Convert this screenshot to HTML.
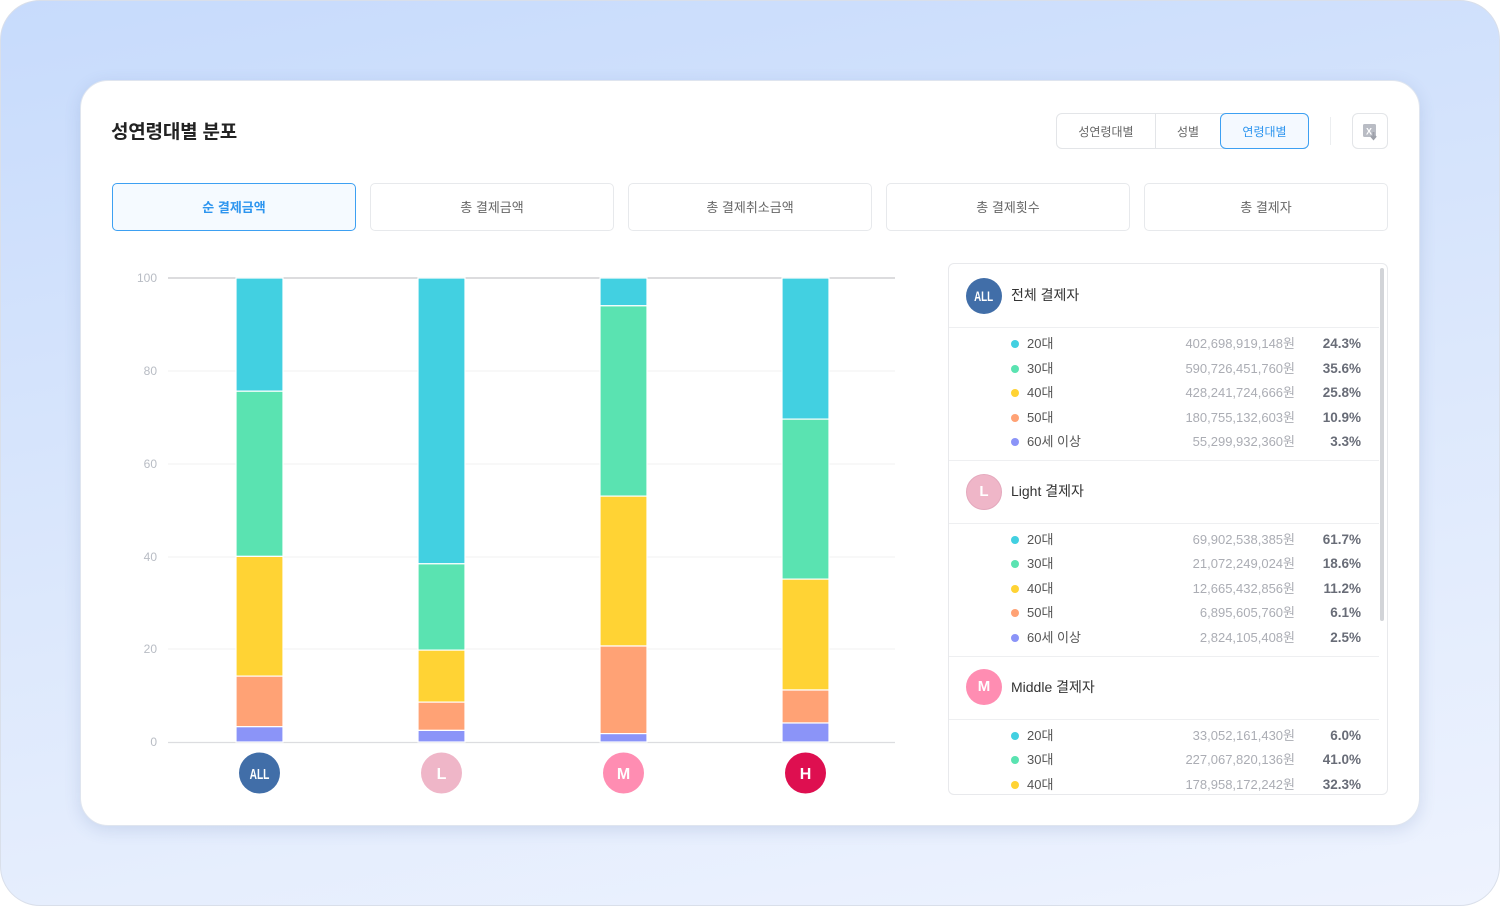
<!DOCTYPE html>
<html><head><meta charset="utf-8">
<style>
*{box-sizing:border-box;margin:0;padding:0}
body{width:1500px;height:906px;background:#fff;position:relative;overflow:hidden;font-family:"Liberation Sans","Noto Sans CJK KR",sans-serif}
.bg{position:absolute;left:0;top:0;width:1500px;height:906px;border-radius:40px;border:1px solid #d9dfea;background:linear-gradient(170deg,#c7dbfc 0%,#d9e6fc 45%,#eef3fe 100%)}
.card{position:absolute;left:80px;top:80px;width:1340px;height:746px;border-radius:28px;background:#fff;border:1px solid #dfe5ef;box-shadow:0 4px 16px rgba(70,100,160,.16)}
.abs{position:absolute}
.title{left:111px;top:120px;font-size:19px;font-weight:700;color:#222;letter-spacing:-0.2px;line-height:26px}
.seg{left:1056px;top:113px;width:253px;height:36px;border:1px solid #e3e5e8;border-radius:6px}
.segt{top:114px;height:36px;line-height:36px;font-size:12px;color:#666;text-align:center}
.tab{top:183px;width:244px;height:48px;border:1px solid #e7e9ec;border-radius:5px;text-align:center;line-height:48px;font-size:13px;color:#666}
.tab.on{border-color:#3da0f2;background:#f5faff;color:#2d95ef;font-weight:700}
.panel{left:948px;top:263px;width:440px;height:532px;border:1px solid #e8e9ec;border-radius:6px;overflow:hidden;background:#fff}
.hc{position:absolute;width:36px;height:36px;border-radius:50%;color:#fff;text-align:center;line-height:36px;font-size:15px;font-weight:700}
.ht{position:absolute;left:62px;font-size:14px;color:#333;line-height:20px}
.dv{position:absolute;left:0;width:430px;height:1px;background:#eeeff1}
.row{position:absolute;left:0;width:430px;height:20px;line-height:20px;font-size:13px}
.row .d{position:absolute;left:62px;top:6px;width:8px;height:8px;border-radius:50%}
.row .l{position:absolute;left:78px;color:#555}
.row .a{position:absolute;right:84px;color:#abadb4}
.row .p{position:absolute;right:18px;color:#686c77;font-weight:700;font-size:13.5px}
</style></head><body>
<div class="bg"></div>
<div class="card"></div>
<div class="abs title">성연령대별 분포</div>

<div class="abs seg"></div>
<div class="abs" style="left:1155px;top:114px;width:1px;height:34px;background:#e3e5e8"></div>
<div class="abs segt" style="left:1056px;width:100px">성연령대별</div>
<div class="abs segt" style="left:1156px;width:64px">성별</div>
<div class="abs" style="left:1220px;top:113px;width:89px;height:36px;border:1px solid #3da0f2;border-radius:6px;background:#f4f9ff"></div>
<div class="abs segt" style="left:1220px;width:89px;color:#2d95ef">연령대별</div>
<div class="abs" style="left:1330px;top:117px;width:1px;height:28px;background:#eceef0"></div>
<div class="abs" style="left:1352px;top:113px;width:36px;height:36px;border:1px solid #e3e5e8;border-radius:6px"></div>
<svg class="abs" style="left:1352px;top:113px" width="36" height="36">
<rect x="11" y="11" width="13" height="13" rx="1.5" fill="#b9bcc4"/>
<text x="17" y="21.5" font-size="9" font-weight="700" fill="#fff" text-anchor="middle" font-family="Liberation Sans">X</text>
<path d="M21.5 19v6M19 23l2.5 3 2.5-3" stroke="#9ea1aa" stroke-width="2" fill="none"/>
</svg>

<div class="abs tab on" style="left:112px">순 결제금액</div>
<div class="abs tab" style="left:370px">총 결제금액</div>
<div class="abs tab" style="left:628px">총 결제취소금액</div>
<div class="abs tab" style="left:886px">총 결제횟수</div>
<div class="abs tab" style="left:1144px">총 결제자</div>

<svg class="abs" style="left:0;top:0" width="1500" height="906" font-family="Liberation Sans">
<g stroke-width="1">
<line x1="168" x2="895" y1="371" y2="371" stroke="#f0f0f2"/>
<line x1="168" x2="895" y1="464" y2="464" stroke="#f0f0f2"/>
<line x1="168" x2="895" y1="557" y2="557" stroke="#f0f0f2"/>
<line x1="168" x2="895" y1="649" y2="649" stroke="#f0f0f2"/>
<line x1="168" x2="895" y1="278" y2="278" stroke="#c6c7cb" stroke-width="1.3"/>
<line x1="168" x2="895" y1="742.5" y2="742.5" stroke="#dcdde0" stroke-width="1.3"/>
</g>
<g font-size="12" fill="#b8bcc4" text-anchor="end">
<text x="157" y="282">100</text><text x="157" y="375">80</text><text x="157" y="468">60</text><text x="157" y="561">40</text><text x="157" y="653">20</text><text x="157" y="746">0</text>
</g>
<g stroke="#fff" stroke-width="1.2">
<rect x="236" y="278" width="47" height="113.2" fill="#42d0e1"/>
<rect x="236" y="391.2" width="47" height="165.2" fill="#5ae3b1"/>
<rect x="236" y="556.4" width="47" height="119.7" fill="#ffd334"/>
<rect x="236" y="676.1" width="47" height="50.6" fill="#ffa275"/>
<rect x="236" y="726.7" width="47" height="15.3" fill="#8b94f8"/>
<rect x="418" y="278" width="47" height="285.8" fill="#42d0e1"/>
<rect x="418" y="563.8" width="47" height="86.3" fill="#5ae3b1"/>
<rect x="418" y="650.1" width="47" height="52" fill="#ffd334"/>
<rect x="418" y="702.1" width="47" height="28.3" fill="#ffa275"/>
<rect x="418" y="730.4" width="47" height="11.6" fill="#8b94f8"/>
<rect x="600" y="278" width="47" height="27.8" fill="#42d0e1"/>
<rect x="600" y="305.8" width="47" height="190.3" fill="#5ae3b1"/>
<rect x="600" y="496.1" width="47" height="149.9" fill="#ffd334"/>
<rect x="600" y="646" width="47" height="87.6" fill="#ffa275"/>
<rect x="600" y="733.6" width="47" height="8.4" fill="#8b94f8"/>
<rect x="782" y="278" width="47" height="141.1" fill="#42d0e1"/>
<rect x="782" y="419.1" width="47" height="160" fill="#5ae3b1"/>
<rect x="782" y="579.1" width="47" height="110.9" fill="#ffd334"/>
<rect x="782" y="690" width="47" height="33" fill="#ffa275"/>
<rect x="782" y="723" width="47" height="19" fill="#8b94f8"/>
</g>
<circle cx="259.5" cy="773" r="20.5" fill="#416ea8"/>
<text x="259.5" y="779" font-size="15" font-weight="700" fill="#fff" text-anchor="middle" transform="translate(259.5 0) scale(0.68 1) translate(-259.5 0)">ALL</text>
<circle cx="441.5" cy="773" r="20.5" fill="#efb6c8"/>
<text x="441.5" y="779" font-size="16" font-weight="700" fill="#fff" text-anchor="middle">L</text>
<circle cx="623.5" cy="773" r="20.5" fill="#ff8db2"/>
<text x="623.5" y="779" font-size="16" font-weight="700" fill="#fff" text-anchor="middle">M</text>
<circle cx="805.5" cy="773" r="20.5" fill="#de0f50"/>
<text x="805.5" y="779" font-size="16" font-weight="700" fill="#fff" text-anchor="middle">H</text>
</svg>

<div class="abs panel">
  <div class="abs" style="left:431px;top:4px;width:4px;height:353px;border-radius:2px;background:#d2d4d8"></div>

  <div class="hc" style="left:17px;top:14px;background:#416ea8;font-size:14px"><span style="display:inline-block;transform:scaleX(0.7)">ALL</span></div>
  <div class="ht" style="top:21px">전체 결제자</div>
  <div class="dv" style="top:63px"></div>
  <div class="row" style="top:70px"><span class="d" style="background:#42d0e1"></span><span class="l">20대</span><span class="a">402,698,919,148원</span><span class="p">24.3%</span></div>
  <div class="row" style="top:95px"><span class="d" style="background:#5ae3b1"></span><span class="l">30대</span><span class="a">590,726,451,760원</span><span class="p">35.6%</span></div>
  <div class="row" style="top:119px"><span class="d" style="background:#ffd334"></span><span class="l">40대</span><span class="a">428,241,724,666원</span><span class="p">25.8%</span></div>
  <div class="row" style="top:144px"><span class="d" style="background:#ffa275"></span><span class="l">50대</span><span class="a">180,755,132,603원</span><span class="p">10.9%</span></div>
  <div class="row" style="top:168px"><span class="d" style="background:#8b94f8"></span><span class="l">60세 이상</span><span class="a">55,299,932,360원</span><span class="p">3.3%</span></div>
  <div class="dv" style="top:196px"></div>

  <div class="hc" style="left:17px;top:210px;background:#efb6c8;border:1px solid #e4a9bd;line-height:34px">L</div>
  <div class="ht" style="top:217px">Light 결제자</div>
  <div class="dv" style="top:259px"></div>
  <div class="row" style="top:266px"><span class="d" style="background:#42d0e1"></span><span class="l">20대</span><span class="a">69,902,538,385원</span><span class="p">61.7%</span></div>
  <div class="row" style="top:290px"><span class="d" style="background:#5ae3b1"></span><span class="l">30대</span><span class="a">21,072,249,024원</span><span class="p">18.6%</span></div>
  <div class="row" style="top:315px"><span class="d" style="background:#ffd334"></span><span class="l">40대</span><span class="a">12,665,432,856원</span><span class="p">11.2%</span></div>
  <div class="row" style="top:339px"><span class="d" style="background:#ffa275"></span><span class="l">50대</span><span class="a">6,895,605,760원</span><span class="p">6.1%</span></div>
  <div class="row" style="top:364px"><span class="d" style="background:#8b94f8"></span><span class="l">60세 이상</span><span class="a">2,824,105,408원</span><span class="p">2.5%</span></div>
  <div class="dv" style="top:392px"></div>

  <div class="hc" style="left:17px;top:405px;background:#ff8db2">M</div>
  <div class="ht" style="top:413px">Middle 결제자</div>
  <div class="dv" style="top:455px"></div>
  <div class="row" style="top:462px"><span class="d" style="background:#42d0e1"></span><span class="l">20대</span><span class="a">33,052,161,430원</span><span class="p">6.0%</span></div>
  <div class="row" style="top:486px"><span class="d" style="background:#5ae3b1"></span><span class="l">30대</span><span class="a">227,067,820,136원</span><span class="p">41.0%</span></div>
  <div class="row" style="top:511px"><span class="d" style="background:#ffd334"></span><span class="l">40대</span><span class="a">178,958,172,242원</span><span class="p">32.3%</span></div>
</div>
</body></html>
